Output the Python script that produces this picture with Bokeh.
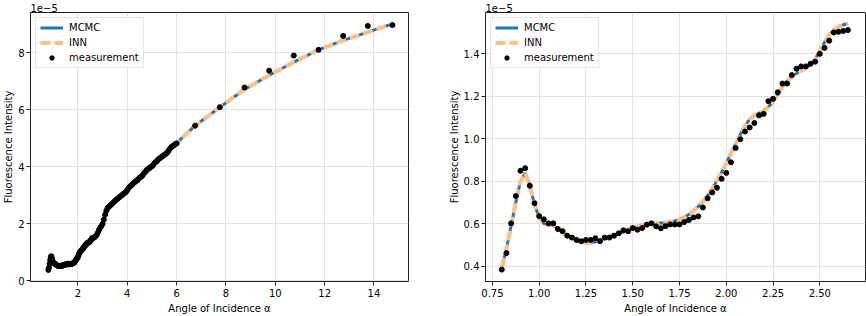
from bokeh.plotting import figure
from bokeh.layouts import row
from bokeh.models import Range1d, FixedTicker, NumeralTickFormatter
from bokeh.embed import file_html
from bokeh.resources import INLINE

FONT = "DejaVu Sans"

# ---------------- data (intensities in units of 1e-5) ----------------
# fine measurement grid 0.800 .. 2.650, step 0.025 (shown in the right panel)
angle_fine = [round(0.8 + 0.025 * i, 3) for i in range(75)]
meas_fine = [0.383, 0.461, 0.601, 0.730, 0.849, 0.861, 0.778, 0.696, 0.635, 0.620,
             0.601, 0.601, 0.574, 0.564, 0.543, 0.534, 0.523, 0.517, 0.523, 0.523,
             0.531, 0.517, 0.534, 0.534, 0.543, 0.554, 0.568, 0.564, 0.579, 0.571,
             0.579, 0.595, 0.601, 0.587, 0.578, 0.588, 0.596, 0.596, 0.596, 0.607,
             0.617, 0.629, 0.634, 0.676, 0.719, 0.747, 0.769, 0.811, 0.839, 0.889,
             0.956, 0.998, 1.034, 1.053, 1.074, 1.110, 1.117, 1.177, 1.188, 1.219,
             1.260, 1.260, 1.300, 1.330, 1.341, 1.341, 1.353, 1.363, 1.400, 1.428,
             1.462, 1.501, 1.504, 1.508, 1.512]
fit_fine = [0.392, 0.480, 0.590, 0.700, 0.800, 0.838, 0.780, 0.690, 0.628, 0.600,
            0.593, 0.591, 0.577, 0.558, 0.543, 0.531, 0.520, 0.513, 0.509, 0.509,
            0.514, 0.521, 0.529, 0.537, 0.545, 0.553, 0.562, 0.571, 0.579, 0.586,
            0.592, 0.597, 0.600, 0.602, 0.603, 0.604, 0.607, 0.613, 0.620, 0.630,
            0.643, 0.660, 0.680, 0.703, 0.732, 0.765, 0.802, 0.842, 0.885, 0.930,
            0.975, 1.020, 1.060, 1.092, 1.110, 1.120, 1.132, 1.150, 1.175, 1.210,
            1.245, 1.272, 1.292, 1.308, 1.320, 1.334, 1.350, 1.375, 1.415, 1.455,
            1.490, 1.512, 1.527, 1.537, 1.543]

# continuation of the dense measurement 2.70 .. 6.00 (left panel)
angle_mid = [round(2.7 + 0.05 * i, 2) for i in range(67)]
meas_mid = [1.55, 1.60, 1.68, 1.78, 1.86, 1.92, 2.00, 2.15, 2.32, 2.46,
            2.55, 2.60, 2.63, 2.68, 2.72, 2.76, 2.80, 2.84, 2.88, 2.91,
            2.95, 2.98, 3.02, 3.06, 3.08, 3.12, 3.18, 3.25, 3.30, 3.34,
            3.38, 3.43, 3.46, 3.50, 3.52, 3.57, 3.62, 3.64, 3.68, 3.74,
            3.80, 3.84, 3.90, 3.93, 3.96, 3.99, 4.02, 4.06, 4.13, 4.16,
            4.20, 4.25, 4.29, 4.32, 4.35, 4.38, 4.42, 4.45, 4.48, 4.53,
            4.60, 4.66, 4.70, 4.73, 4.76, 4.80, 4.82]
angle_mid_fit = [round(2.7 + 0.1 * i, 1) for i in range(34)]
fit_mid = [1.56, 1.68, 1.84, 2.02, 2.30, 2.52, 2.63, 2.72, 2.80, 2.88,
           2.95, 3.02, 3.09, 3.17, 3.27, 3.36, 3.45, 3.53, 3.61, 3.69,
           3.78, 3.87, 3.95, 4.03, 4.11, 4.19, 4.27, 4.34, 4.41, 4.49,
           4.58, 4.67, 4.75, 4.83]

# sparse measurements at large angles
angle_sparse = [6.75, 7.75, 8.75, 9.75, 10.75, 11.75, 12.75, 13.75, 14.75]
meas_sparse = [5.44, 6.09, 6.78, 7.37, 7.90, 8.10, 8.59, 8.94, 8.97]
fit_sparse = [5.44, 6.09, 6.71, 7.21, 7.67, 8.10, 8.43, 8.72, 9.01]

# MCMC and INN reconstructions coincide at this scale
left_x_meas = angle_fine + angle_mid + angle_sparse
left_meas = meas_fine + meas_mid + meas_sparse
left_x_fit = angle_fine + angle_mid_fit + angle_sparse
left_mcmc = fit_fine + fit_mid + fit_sparse
left_inn = list(left_mcmc)
right_mcmc = fit_fine
right_inn = list(fit_fine)

left_xticks = [2, 4, 6, 8, 10, 12, 14]
left_yticks = [0, 2, 4, 6, 8]
right_xticks = [0.75, 1.0, 1.25, 1.5, 1.75, 2.0, 2.25, 2.5]
right_yticks = [0.4, 0.6, 0.8, 1.0, 1.2, 1.4]

BLUE = "#1f77b4"
ORANGE = "#ffbf86"


def make(width, xr, yr, xticks, yticks, xfmt, yfmt, xs_fit, mcmc, inn, xs_m, meas, mbl, mbr):
    p = figure(width=width, height=316, output_backend="svg", toolbar_location=None,
               x_range=Range1d(*xr), y_range=Range1d(*yr),
               min_border_left=mbl, min_border_right=mbr, min_border_top=12, min_border_bottom=33,
               background_fill_color="white", border_fill_color="white")
    p.title.text = "1e\u22125"
    p.title.align = "left"
    p.title.text_font = FONT
    p.title.text_font_size = "10px"
    p.title.text_font_style = "normal"
    p.title.text_color = "#000000"
    p.title.standoff = 1
    p.outline_line_color = "#222222"
    p.outline_line_width = 1
    p.outline_line_alpha = 1

    p.line(xs_fit, mcmc, color=BLUE, line_width=3, legend_label="MCMC")
    p.line(xs_fit, inn, color=ORANGE, line_width=4, line_dash="10 4", legend_label="INN")
    p.scatter(xs_m, meas, size=5, color="black", legend_label="measurement")

    p.xaxis.ticker = FixedTicker(ticks=xticks)
    p.yaxis.ticker = FixedTicker(ticks=yticks)
    p.xaxis.formatter = NumeralTickFormatter(format=xfmt)
    p.yaxis.formatter = NumeralTickFormatter(format=yfmt)
    p.xaxis.axis_label = "Angle of Incidence \u03b1"
    p.yaxis.axis_label = "Fluorescence Intensity"
    for ax in (p.xaxis[0], p.yaxis[0]):
        ax.axis_line_color = "#222222"
        ax.major_tick_line_color = "#222222"
        ax.major_tick_out = 4
        ax.major_tick_in = 0
        ax.minor_tick_line_color = None
        ax.major_label_text_font = FONT
        ax.major_label_text_font_size = "10px"
        ax.major_label_text_color = "#000000"
        ax.major_label_standoff = 3
        ax.axis_label_text_font = FONT
        ax.axis_label_text_font_size = "10px"
        ax.axis_label_text_font_style = "normal"
        ax.axis_label_text_color = "#000000"
        ax.axis_label_standoff = 3
    p.yaxis[0].major_label_standoff = 2
    p.yaxis[0].axis_label_standoff = 1
    p.grid.grid_line_color = "#e2e2e2"
    p.grid.grid_line_width = 1

    lg = p.legend[0]
    lg.location = "top_left"
    lg.margin = 5
    lg.padding = 4
    lg.spacing = 4
    lg.label_height = 11
    lg.glyph_height = 11
    lg.glyph_width = 23
    lg.label_standoff = 6
    lg.label_text_font = FONT
    lg.label_text_font_size = "10px"
    lg.label_text_color = "#000000"
    lg.border_line_color = "#cccccc"
    lg.border_line_width = 1
    lg.background_fill_alpha = 0.85
    return p


p1 = make(440, (0.076, 15.40), (-0.023, 9.41), left_xticks, left_yticks, "0", "0",
          left_x_fit, left_mcmc, left_inn, left_x_meas, left_meas, 28, 32)
p2 = make(426, (0.713, 2.744), (0.327, 1.595), right_xticks, right_yticks, "0.00", "0.0",
          angle_fine, right_mcmc, right_inn, angle_fine, meas_fine, 45, 1)

p = row(p1, p2)

open("out.html", "w").write(file_html(p, INLINE))
